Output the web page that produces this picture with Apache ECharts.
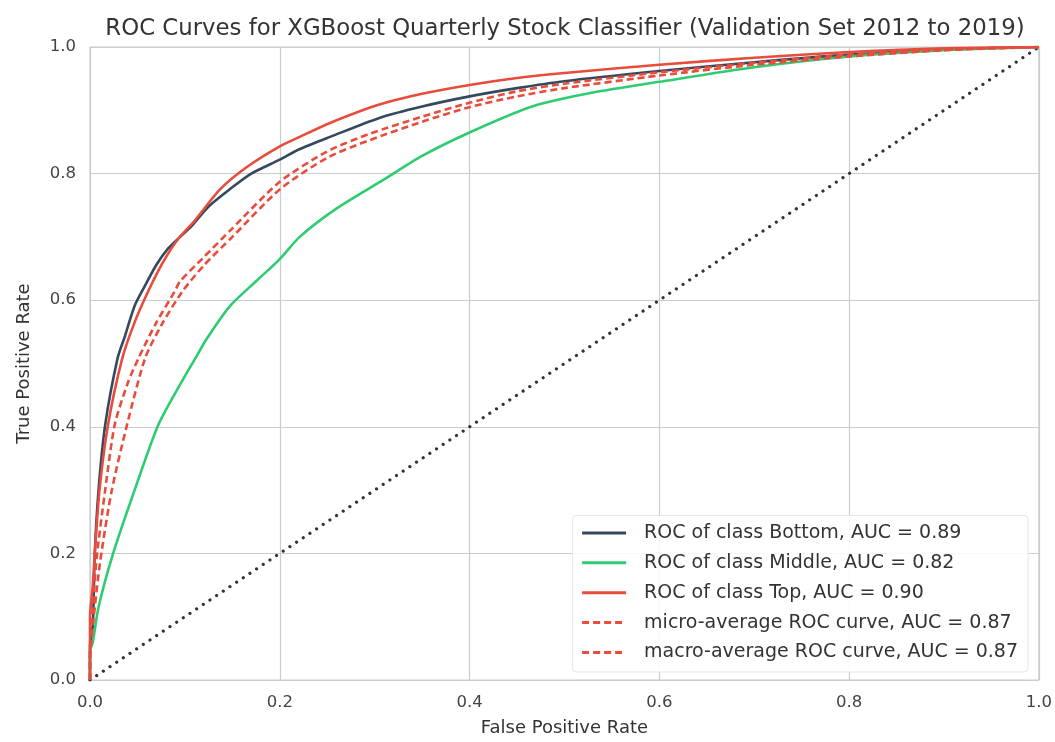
<!DOCTYPE html>
<html>
<head>
<meta charset="utf-8">
<script src="https://cdn.jsdelivr.net/npm/echarts@6/dist/echarts.min.js"></script>
<style>html,body{margin:0;padding:0;background:#fff;}#c{width:1055px;height:742px;}</style>
</head>
<body>
<div id="c"></div>
<script>
const titleText = 'ROC Curves for XGBoost Quarterly Stock Classifier (Validation Set 2012 to 2019)';
const tickLabels = ['0.0','0.2','0.4','0.6','0.8','1.0'];
const seriesNames = ['ROC of class Bottom, AUC = 0.89','ROC of class Middle, AUC = 0.82','ROC of class Top, AUC = 0.90','micro-average ROC curve, AUC = 0.87','macro-average ROC curve, AUC = 0.87'];

const rocBottom = [[0,0],[0,0.05],[0.003,0.088],[0.005,0.198],[0.009,0.30],[0.016,0.403],[0.029,0.508],[0.037,0.544],[0.047,0.591],[0.058,0.623],[0.07,0.656],[0.082,0.681],[0.095,0.70],[0.107,0.717],[0.125,0.748],[0.147,0.775],[0.17,0.80],[0.2,0.822],[0.22,0.838],[0.253,0.858],[0.305,0.888],[0.35,0.906],[0.4,0.922],[0.45,0.935],[0.5,0.946],[0.6,0.962],[0.7,0.976],[0.8,0.988],[0.9,0.996],[1,1]];
const rocMiddle = [[0,0],[0,0.045],[0.003,0.06],[0.009,0.115],[0.024,0.198],[0.047,0.30],[0.072,0.403],[0.1,0.48],[0.111,0.508],[0.123,0.539],[0.147,0.59],[0.175,0.63],[0.2,0.665],[0.221,0.70],[0.26,0.745],[0.309,0.79],[0.35,0.828],[0.4,0.865],[0.466,0.906],[0.53,0.928],[0.6,0.945],[0.7,0.968],[0.8,0.985],[0.9,0.995],[1,1]];
const rocTop = [[0,0],[0,0.1],[0.003,0.15],[0.005,0.2],[0.01,0.30],[0.019,0.403],[0.034,0.508],[0.047,0.565],[0.061,0.613],[0.077,0.66],[0.093,0.697],[0.11,0.725],[0.137,0.775],[0.165,0.81],[0.2,0.843],[0.221,0.858],[0.253,0.88],[0.305,0.909],[0.35,0.926],[0.4,0.94],[0.45,0.951],[0.5,0.959],[0.6,0.972],[0.7,0.983],[0.8,0.992],[0.9,0.998],[1,1]];
const rocMicro = [[0,0],[0,0.05],[0.003,0.115],[0.007,0.193],[0.016,0.30],[0.026,0.403],[0.04,0.47],[0.051,0.508],[0.07,0.565],[0.089,0.613],[0.095,0.63],[0.118,0.665],[0.149,0.712],[0.2,0.787],[0.25,0.835],[0.295,0.863],[0.35,0.89],[0.4,0.912],[0.45,0.93],[0.5,0.942],[0.6,0.96],[0.7,0.975],[0.8,0.988],[0.9,0.996],[1,1]];
const rocMacro = [[0,0],[0,0.03],[0.004,0.1],[0.011,0.19],[0.023,0.30],[0.039,0.403],[0.058,0.508],[0.075,0.56],[0.097,0.613],[0.12,0.655],[0.15,0.7],[0.2,0.775],[0.25,0.825],[0.295,0.853],[0.35,0.882],[0.4,0.905],[0.45,0.922],[0.5,0.935],[0.6,0.955],[0.7,0.972],[0.8,0.985],[0.9,0.995],[1,1]];
const diagonal = [[0,0],[1,1]];

const colors = ['#34495e','#2ecc71','#e74c3c','#e74c3c','#e74c3c'];
const font = 'DejaVu Sans, Liberation Sans, sans-serif';

const chart = echarts.init(document.getElementById('c'), null, {renderer:'canvas'});
function mk(name, data, color, type){
  return {name:name, type:'line', data:data, showSymbol:false, symbol:'none', smooth:0.25, animation:false,
    lineStyle:{color:color, width:2.6, type:type}, itemStyle:{color:color}, z:3};
}
chart.setOption({
  backgroundColor:'#ffffff',
  animation:false,
  title:{text:titleText, left:560, top:13, textAlign:'center', textStyle:{fontFamily:font, fontSize:22.8, fontWeight:'normal', color:'#333'}},
  grid:{left:90, right:15, top:47, bottom:59, show:true, borderColor:'#cccccc', borderWidth:1.2},
  legend:{data:seriesNames, orient:'vertical', right:27, bottom:70, itemWidth:44, itemHeight:14, itemGap:10.9,
    padding:[8,10,10,8], backgroundColor:'rgba(255,255,255,0.85)', borderColor:'#e6e6e6', borderWidth:1, borderRadius:4,
    itemStyle:{color:'rgba(0,0,0,0)', borderColor:'rgba(0,0,0,0)', borderWidth:0, opacity:0},
    lineStyle:{width:3},
    textStyle:{fontFamily:font, fontSize:19, lineHeight:18, color:'#333', padding:[0,0,0,13]}},
  xAxis:{type:'value', min:0, max:1, interval:0.2, name:'False Positive Rate', nameLocation:'middle', nameGap:39,
    nameTextStyle:{fontFamily:font, fontSize:18, color:'#333'},
    axisLine:{show:false}, axisTick:{show:false},
    axisLabel:{fontFamily:font, fontSize:16.5, color:'#444', margin:14, formatter:function(v){return tickLabels[Math.round(v*5)];}},
    splitLine:{lineStyle:{color:'#cccccc', width:1.2}}},
  yAxis:{type:'value', min:0, max:1, interval:0.2, name:'True Positive Rate', nameLocation:'middle', nameGap:57,
    nameTextStyle:{fontFamily:font, fontSize:18, color:'#333'},
    axisLine:{show:false}, axisTick:{show:false},
    axisLabel:{fontFamily:font, fontSize:16.5, color:'#444', margin:14, formatter:function(v){return tickLabels[Math.round(v*5)];}},
    splitLine:{lineStyle:{color:'#cccccc', width:1.2}}},
  series:[
    mk(seriesNames[0], rocBottom, colors[0], 'solid'),
    mk(seriesNames[1], rocMiddle, colors[1], 'solid'),
    mk(seriesNames[2], rocTop, colors[2], 'solid'),
    mk(seriesNames[3], rocMicro, colors[3], [7,4]),
    mk(seriesNames[4], rocMacro, colors[4], [7,4]),
    {name:'diagonal', type:'line', data:diagonal, showSymbol:false, symbol:'none', animation:false,
      lineStyle:{color:'#333333', width:3.2, type:[0.01,8], cap:'round'}, z:2, silent:true}
  ]
});
</script>
</body>
</html>
